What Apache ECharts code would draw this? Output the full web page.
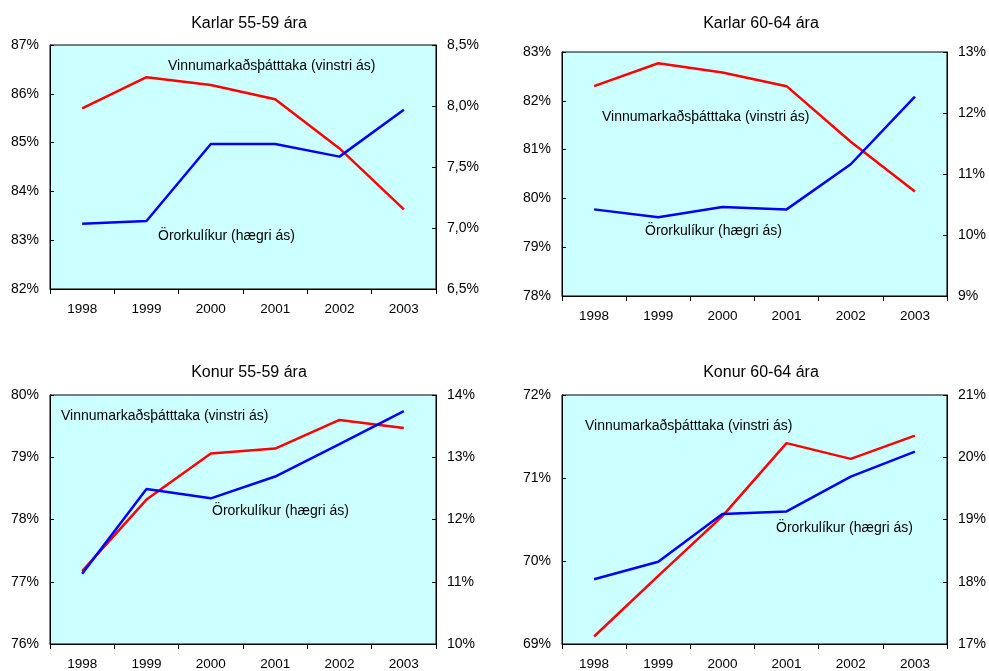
<!DOCTYPE html>
<html>
<head>
<meta charset="utf-8">
<script src="https://cdn.jsdelivr.net/npm/echarts@6/dist/echarts.min.js"></script>
<style>
html,body{margin:0;padding:0;background:#fff;}
#c{width:989px;height:671px;}
</style>
</head>
<body>
<div id="c"></div>
<script>
var years = ['1998','1999','2000','2001','2002','2003'];

var titles = ['Karlar 55-59 ára','Karlar 60-64 ára','Konur 55-59 ára','Konur 60-64 ára'];

// Vinnumarkaðsþátttaka (vinstri ás), %
var partKarlar5559 = [85.70, 86.34, 86.18, 85.89, 84.88, 83.63];
var partKarlar6064 = [82.30, 82.77, 82.58, 82.30, 81.16, 80.14];
var partKonur5559  = [77.17, 78.32, 79.06, 79.14, 79.60, 79.47];
var partKonur6064  = [69.09, 69.82, 70.54, 71.42, 71.23, 71.51];

// Örorkulíkur (hægri ás), %
var disKarlar5559 = [7.035, 7.057, 7.689, 7.689, 7.585, 7.97];
var disKarlar6064 = [10.42, 10.29, 10.46, 10.42, 11.16, 12.27];
var disKonur5559  = [11.13, 12.49, 12.34, 12.69, 13.21, 13.74];
var disKonur6064  = [18.04, 18.32, 19.09, 19.13, 19.69, 20.09];

// axis ranges [min, max, interval, decimals]
var leftAxes  = [[82,87,1,0],[78,83,1,0],[76,80,1,0],[69,72,1,0]];
var rightAxes = [[6.5,8.5,0.5,1],[9,13,1,0],[10,14,1,0],[17,21,1,0]];

var labelPart = 'Vinnumarkaðsþátttaka (vinstri ás)';
var labelDis = 'Örorkulíkur (hægri ás)';

var partData = [partKarlar5559, partKarlar6064, partKonur5559, partKonur6064];
var disData = [disKarlar5559, disKarlar6064, disKonur5559, disKonur6064];

var grids = [
  {left:50, top:45, width:386, height:244},
  {left:562, top:52, width:390, height:244},
  {left:50, top:395, width:386, height:250},
  {left:562, top:395, width:386, height:250}
];
var titlePos = [[244,11],[756,11],[244,360],[756,360]];
var annPart = [[168,67],[602,118],[61,417],[585,427]];
var annDis  = [[158,237],[645,232],[212,512],[776,529]];

var FONT = '"Liberation Sans", Arial, sans-serif';

function fmt(dec){
  return function(v){ return v.toFixed(dec).replace('.', ',') + '%'; };
}

var option = {
  animation:false,
  backgroundColor:'#ffffff',
  title:[], grid:[], xAxis:[], yAxis:[], series:[], graphic:[]
};

for (var i=0;i<4;i++){
  var g = grids[i];
  option.title.push({
    text: titles[i], left: titlePos[i][0], top: titlePos[i][1], textAlign:'center',
    textStyle:{fontFamily:FONT, fontSize:16, fontWeight:'normal', color:'#000'}
  });
  option.grid.push({
    left:g.left, top:g.top, width:g.width, height:g.height,
    show:true, backgroundColor:'#CCFFFF', borderColor:'#000', borderWidth:1
  });
  option.xAxis.push({
    type:'category', gridIndex:i, data:years, boundaryGap:true,
    axisLine:{lineStyle:{color:'#000', width:1}},
    axisTick:{show:true, inside:false, length:5, alignWithLabel:false, lineStyle:{color:'#000'}},
    axisLabel:{fontFamily:FONT, fontSize:13.5, color:'#000', margin:13},
    splitLine:{show:false}
  });
  var la = leftAxes[i], ra = rightAxes[i];
  option.yAxis.push({
    type:'value', gridIndex:i, position:'left', min:la[0], max:la[1], interval:la[2],
    axisLine:{show:true, lineStyle:{color:'#000', width:1}},
    axisTick:{show:true, inside:true, length:4, lineStyle:{color:'#000'}},
    axisLabel:{fontFamily:FONT, fontSize:14, color:'#000', margin:11, formatter:fmt(la[3])},
    splitLine:{show:false}
  });
  option.yAxis.push({
    type:'value', gridIndex:i, position:'right', min:ra[0], max:ra[1], interval:ra[2],
    axisLine:{show:true, lineStyle:{color:'#000', width:1}},
    axisTick:{show:true, inside:true, length:4, lineStyle:{color:'#000'}},
    axisLabel:{fontFamily:FONT, fontSize:14, color:'#000', margin:11, formatter:fmt(ra[3])},
    splitLine:{show:false}
  });
  option.series.push({
    type:'line', xAxisIndex:i, yAxisIndex:2*i, data:partData[i],
    symbol:'none', lineStyle:{color:'#FF0000', width:2.5}, z:3
  });
  option.series.push({
    type:'line', xAxisIndex:i, yAxisIndex:2*i+1, data:disData[i],
    symbol:'none', lineStyle:{color:'#0000FF', width:2.5}, z:4
  });
  option.graphic.push({
    type:'text', left:annPart[i][0], top:annPart[i][1]-8, z:10,
    style:{text:labelPart, font:'14px ' + FONT, fill:'#000'}
  });
  option.graphic.push({
    type:'text', left:annDis[i][0], top:annDis[i][1]-8, z:10,
    style:{text:labelDis, font:'14px ' + FONT, fill:'#000'}
  });
}

var chart = echarts.init(document.getElementById('c'), null, {renderer:'canvas'});
chart.setOption(option);
</script>
</body>
</html>
